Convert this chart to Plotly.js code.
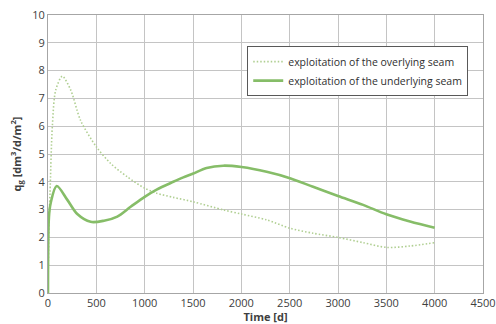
<!DOCTYPE html>
<html>
<head>
<meta charset="utf-8">
<script src="https://cdn.plot.ly/plotly-3.0.1.min.js"></script>
<style>html,body{margin:0;padding:0;background:#fff;}#chart{width:496px;height:324px;}</style>
</head>
<body>
<div id="chart"></div>
<script>
var overTime = [0, 10, 21, 45, 80, 148, 235, 338, 500, 648, 820, 1000, 1124, 1296, 1503, 1813, 2003, 2262, 2503, 2742, 3000, 3260, 3502, 3745, 4002];
var overVals = [0, 2.5, 3.6, 6.0, 7.3, 7.8, 7.3, 6.2, 5.26, 4.66, 4.18, 3.77, 3.59, 3.44, 3.28, 2.99, 2.84, 2.63, 2.33, 2.15, 2.0, 1.81, 1.64, 1.69, 1.81];
var underTime = [0, 10, 28, 90, 200, 303, 441, 579, 717, 855, 1000, 1124, 1296, 1400, 1503, 1641, 1813, 2003, 2262, 2503, 2742, 3000, 3260, 3500, 3745, 4000];
var underVals = [0, 2.75, 3.24, 3.85, 3.35, 2.84, 2.56, 2.6, 2.75, 3.1, 3.46, 3.72, 4.0, 4.16, 4.3, 4.5, 4.58, 4.53, 4.36, 4.13, 3.82, 3.49, 3.17, 2.83, 2.57, 2.35];
var xTicks = [0, 500, 1000, 1500, 2000, 2500, 3000, 3500, 4000, 4500];
var yTicks = [0, 1, 2, 3, 4, 5, 6, 7, 8, 9, 10];
var names = ['exploitation of the overlying seam', 'exploitation of the underlying seam'];

var font = 'Open Sans, Lato, sans-serif';
var data = [
  {x: overTime, y: overVals, name: names[0], type: 'scatter', mode: 'lines',
   line: {color: '#b0cf92', width: 1.6, dash: '1.5px,2px', shape: 'spline', smoothing: 0.8}},
  {x: underTime, y: underVals, name: names[1], type: 'scatter', mode: 'lines',
   line: {color: '#86bd68', width: 2.6, shape: 'spline', smoothing: 0.9}}
];
var layout = {
  width: 496, height: 324,
  margin: {l: 48, r: 13, t: 15, b: 31},
  paper_bgcolor: '#fff', plot_bgcolor: '#fff',
  font: {family: font, size: 11, color: '#404040'},
  showlegend: true,
  legend: {x: 0.458, y: 0.888, xanchor: 'left', yanchor: 'top',
    bordercolor: '#595959', borderwidth: 1, bgcolor: '#fff', itemwidth: 30,
    font: {family: font, size: 10.5, color: '#303030'}, tracegroupgap: 4},
  xaxis: {range: [0, 4500], tickvals: xTicks, showgrid: true, gridcolor: '#c4c4c4', gridwidth: 1,
    zeroline: false, showline: true, linecolor: '#a6a6a6', mirror: true, ticks: '',
    tickfont: {size: 11, color: '#404040'},
    title: {text: '<b>Time [d]</b>', font: {size: 11, color: '#404040'}, standoff: 0}},
  yaxis: {range: [0, 10], tickvals: yTicks, showgrid: true, gridcolor: '#c4c4c4', gridwidth: 1,
    zeroline: false, showline: true, linecolor: '#a6a6a6', mirror: true, ticks: '',
    tickfont: {size: 11, color: '#404040'},
    title: {text: '<b>q<sub>g</sub> [dm<sup>3</sup>/d/m<sup>2</sup>]</b>', font: {size: 11, color: '#404040'}, standoff: 8}}
};
Plotly.newPlot('chart', data, layout, {displayModeBar: false, staticPlot: true});
</script>
</body>
</html>
